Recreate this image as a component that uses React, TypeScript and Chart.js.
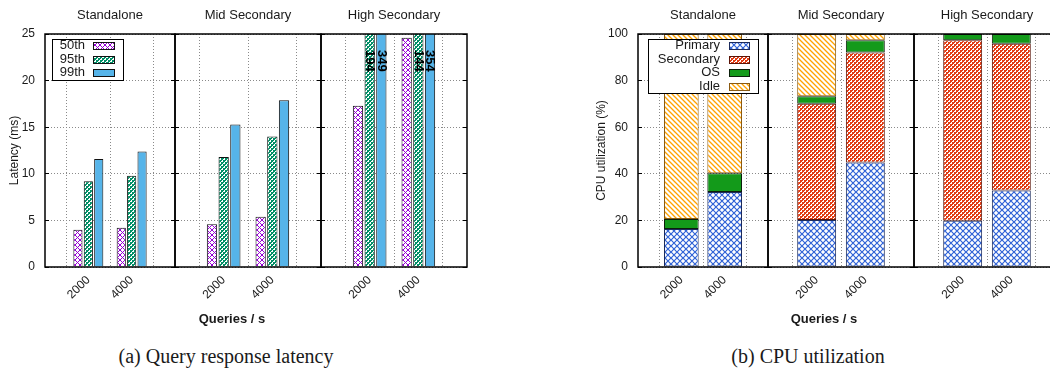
import React, { useEffect, useRef } from "react";
import { Chart, registerables } from "chart.js";

Chart.register(...registerables);

// ---------------- data ----------------
const panelTitles = ["Standalone", "Mid Secondary", "High Secondary"];
const loadLabels = ["2000", "4000"];
const latencyTicks = [0, 5, 10, 15, 20, 25];
const cpuTicks = [0, 20, 40, 60, 80, 100];
const latencySeries = ["50th", "95th", "99th"];
const cpuSeries = ["Primary", "Secondary", "OS", "Idle"];

// per panel: [2000, 4000]
const lat50 = [[4.0, 4.2], [4.6, 5.4], [17.3, 24.6]];
const lat95 = [[9.2, 9.8], [11.8, 14.0], [194, 144]];
const lat99 = [[11.6, 12.4], [15.3, 17.9], [349, 354]];

const cpuPrimary = [[16.3, 32.2], [20.2, 44.8], [19.9, 32.8]];
const cpuSecondary = [[0, 0], [49.9, 47.3], [77.4, 63.0]];
const cpuOS = [[4.3, 8.0], [3.2, 5.2], [2.7, 4.2]];
const cpuIdle = [[79.4, 59.8], [26.7, 2.7], [0, 0]];

const xLabel = "Queries / s";
const latencyYLabel = "Latency (ms)";
const cpuYLabel = "CPU utilization (%)";
const captionA = "(a) Query response latency";
const captionB = "(b) CPU utilization";

// ---------------- layout / style ----------------
const FONT = "'Liberation Sans', Arial, Helvetica, sans-serif";
const SERIF = "'Liberation Serif', 'Times New Roman', serif";
const TEXT = "#1a1a1a";
const CANVAS_H = 340;
const AREA_BOTTOM = 267;
const SIDE_PAD = 8;
const YAXIS_W = 45;

const layoutA = {
  areaLeft: [45, 175, 321],
  areaRight: [175, 321, 467],
  yTitleX: 15,
  legend: { x: 7, y: 5, w: 71, h: 41, row0: 11.5, rowStep: 13.6, textRight: 40, swatchX: 48, swatchW: 21, swatchH: 7 },
};
const layoutB = {
  areaLeft: [638, 768, 914],
  areaRight: [768, 914, 1060],
  yTitleX: 602,
  legend: { x: 10, y: 5, w: 110, h: 54, row0: 11.7, rowStep: 13.6, textRight: 82, swatchX: 91, swatchW: 20, swatchH: 7 },
};

const C = {
  p50: "#9400d3",
  p95: "#008f66",
  p99: "#56b4e9",
  primary: "#2f62d6",
  secondary: "#e23c14",
  os: "#139a1a",
  idle: "#ffa200",
};

// ---------------- patterns ----------------
function tile(size: number, draw: (g: CanvasRenderingContext2D, s: number) => void) {
  const c = document.createElement("canvas");
  c.width = size;
  c.height = size;
  const g = c.getContext("2d")!;
  g.fillStyle = "#fff";
  g.fillRect(0, 0, size, size);
  draw(g, size);
  return c;
}
function crosshatchTile(color: string, s: number, lw: number) {
  return tile(s, (g) => {
    g.strokeStyle = color;
    g.lineWidth = lw;
    g.beginPath();
    g.moveTo(-1, -1); g.lineTo(s + 1, s + 1);
    g.moveTo(s + 1, -1); g.lineTo(-1, s + 1);
    g.stroke();
  });
}
// fine checkerboard, 2px cells
function checkerTile(color: string) {
  return tile(4, (g) => {
    g.fillStyle = color;
    g.fillRect(0, 0, 2, 2);
    g.fillRect(2, 2, 2, 2);
    g.fillRect(0, 2, 1, 1);
    g.fillRect(2, 0, 1, 1);
  });
}
function hatchTile(color: string, s: number) {
  return tile(s, (g) => {
    g.strokeStyle = color;
    g.lineWidth = 1.3;
    g.beginPath();
    g.moveTo(-1, -1); g.lineTo(s + 1, s + 1);
    g.moveTo(s - 2, -2); g.lineTo(s + 2, 2);
    g.moveTo(-2, s - 2); g.lineTo(2, s + 2);
    g.stroke();
  });
}
function makePatterns(ctx: CanvasRenderingContext2D) {
  const p = (t: HTMLCanvasElement) => ctx.createPattern(t, "repeat") as CanvasPattern;
  return {
    p50: p(crosshatchTile(C.p50, 5, 1)),
    p95: p(checkerTile(C.p95)),
    p99: C.p99,
    primary: p(crosshatchTile(C.primary, 6, 1.2)),
    secondary: p(checkerTile(C.secondary)),
    os: C.os,
    idle: p(hatchTile(C.idle, 5)),
  };
}

// ---------------- plugins ----------------
const framePlugin = {
  id: "frame",
  afterDatasetsDraw(chart: any) {
    const { ctx, chartArea: a } = chart;
    ctx.save();
    ctx.strokeStyle = "#000";
    ctx.lineWidth = 1.5;
    ctx.strokeRect(a.left, a.top, a.right - a.left, a.bottom - a.top);
    ctx.restore();
  },
};

function legendPlugin(spec: any) {
  return {
    id: "boxLegend",
    afterDraw(chart: any) {
      const { ctx, chartArea: a } = chart;
      const x0 = a.left + spec.x;
      const y0 = a.top + spec.y;
      ctx.save();
      ctx.fillStyle = "#fff";
      ctx.fillRect(x0, y0, spec.w, spec.h);
      ctx.strokeStyle = "#000";
      ctx.lineWidth = 1;
      ctx.strokeRect(x0 + 0.5, y0 + 0.5, spec.w, spec.h);
      chart.data.datasets.forEach((ds: any, k: number) => {
        const cy = a.top + spec.row0 + k * spec.rowStep;
        ctx.fillStyle = TEXT;
        ctx.font = `13px ${FONT}`;
        ctx.textAlign = "right";
        ctx.textBaseline = "middle";
        ctx.fillText(ds.label, a.left + spec.textRight, cy);
        const sx = a.left + spec.swatchX;
        const sy = Math.round(cy - spec.swatchH / 2);
        ctx.fillStyle = ds.backgroundColor;
        ctx.fillRect(sx, sy, spec.swatchW, spec.swatchH);
        ctx.strokeStyle = ds.borderColor;
        ctx.lineWidth = 1;
        ctx.strokeRect(sx + 0.5, sy + 0.5, spec.swatchW, spec.swatchH);
      });
      ctx.restore();
    },
  };
}

function overflowLabelPlugin(yMax: number) {
  return {
    id: "overflowLabels",
    afterDatasetsDraw(chart: any) {
      const { ctx, chartArea: a } = chart;
      chart.data.datasets.forEach((ds: any, di: number) => {
        const meta = chart.getDatasetMeta(di);
        ds.data.forEach((v: any, j: number) => {
          if (v == null || v <= yMax) return;
          const el = meta.data[j];
          ctx.save();
          ctx.translate(el.x, a.top + 16);
          ctx.rotate(Math.PI / 2);
          ctx.textAlign = "left";
          ctx.textBaseline = "middle";
          ctx.font = `bold 13px ${FONT}`;
          ctx.fillStyle = "#000";
          ctx.fillText(String(v), 0, 0);
          ctx.restore();
        });
      });
    },
  };
}

// ---------------- chart builder ----------------
function geometry(fig: "a" | "b", i: number) {
  const L = fig === "a" ? layoutA : layoutB;
  const first = i === 0;
  const left = first ? L.areaLeft[i] - YAXIS_W : L.areaLeft[i] - SIDE_PAD;
  const width = L.areaRight[i] + SIDE_PAD - left;
  return { L, first, left, width };
}

function buildChart(canvas: HTMLCanvasElement, fig: "a" | "b", i: number) {
  const { L, first, left } = geometry(fig, i);
  const isA = fig === "a";
  const ctx = canvas.getContext("2d")!;
  const pats = makePatterns(ctx);
  const labels = ["", ...loadLabels, ""];
  const wrap = (arr: number[]) => [null, ...arr.map((v) => (v === 0 ? null : v)), null];
  const tickVals = isA ? latencyTicks : cpuTicks;
  const yMin = tickVals[0];
  const yMax = tickVals[tickVals.length - 1];
  const step = tickVals[1] - tickVals[0];

  const latBar = { borderColor: "#111", borderWidth: 1, categoryPercentage: 0.72, barPercentage: 0.88 };
  const cpuBar = { borderWidth: 1, categoryPercentage: 1, barPercentage: 0.8, borderSkipped: false };

  const datasets: any[] = isA
    ? [
        { label: latencySeries[0], data: wrap(lat50[i]), backgroundColor: pats.p50, ...latBar },
        { label: latencySeries[1], data: wrap(lat95[i]), backgroundColor: pats.p95, ...latBar },
        { label: latencySeries[2], data: wrap(lat99[i]), backgroundColor: pats.p99, ...latBar },
      ]
    : [
        { label: cpuSeries[0], data: wrap(cpuPrimary[i]), backgroundColor: pats.primary, borderColor: "#1c2b5c", ...cpuBar },
        { label: cpuSeries[1], data: wrap(cpuSecondary[i]), backgroundColor: pats.secondary, borderColor: "#5a1408", ...cpuBar },
        { label: cpuSeries[2], data: wrap(cpuOS[i]), backgroundColor: pats.os, borderColor: "#0b1f0b", ...cpuBar },
        { label: cpuSeries[3], data: wrap(cpuIdle[i]), backgroundColor: pats.idle, borderColor: "#8a5a12", ...cpuBar },
      ];

  const grid = {
    color: "#8a8a8a",
    lineWidth: 1,
    borderDash: [1, 2],
    tickColor: "#000",
    tickWidth: 1,
    tickBorderDash: [],
  };
  const tickFont = { family: FONT, size: 12 };

  const plugins: any[] = [framePlugin];
  if (isA) plugins.push(overflowLabelPlugin(yMax));
  if (first) plugins.push(legendPlugin(L.legend));

  return new Chart(canvas, {
    type: "bar",
    data: { labels, datasets },
    plugins,
    options: {
      animation: false,
      responsive: false,
      maintainAspectRatio: false,
      devicePixelRatio: 1,
      events: [],
      layout: { padding: { left: first ? 0 : SIDE_PAD, right: SIDE_PAD, top: 0, bottom: 0 } },
      plugins: {
        legend: { display: false },
        tooltip: { enabled: false },
        title: {
          display: true,
          text: panelTitles[i],
          fullSize: false,
          color: TEXT,
          font: { family: FONT, size: 13, lineHeight: 1, weight: "normal" },
          padding: { top: 8.5, bottom: 12.5 },
        },
      },
      scales: {
        x: {
          type: "category",
          offset: false,
          stacked: !isA,
          grid: { ...grid, drawTicks: false },
          border: { display: false, dash: [1, 2] },
          ticks: { autoSkip: false, minRotation: 45, maxRotation: 45, padding: 6, color: TEXT, font: tickFont },
          afterFit: (s: any) => {
            s.height = CANVAS_H - AREA_BOTTOM;
            s.paddingLeft = 0;
            s.paddingRight = 0;
          },
        },
        y: {
          type: "linear",
          position: "left",
          min: yMin,
          max: yMax,
          stacked: !isA,
          grid: { ...grid, drawTicks: true, tickLength: -4 },
          border: { display: false, dash: [1, 2] },
          ticks: { stepSize: step, display: first, padding: 14, color: TEXT, font: tickFont },
          title: {
            display: first,
            text: isA ? latencyYLabel : cpuYLabel,
            color: TEXT,
            font: { family: FONT, size: 12, lineHeight: 1 },
            padding: { top: L.yTitleX - left - 6, bottom: 0 },
          },
          afterFit: (s: any) => {
            s.width = first ? YAXIS_W : 0;
          },
        },
        y2: {
          type: "linear",
          position: "right",
          min: yMin,
          max: yMax,
          grid: { drawOnChartArea: false, drawTicks: true, tickLength: -4, tickColor: "#000", tickWidth: 1 },
          border: { display: false },
          ticks: { stepSize: step, display: false },
          afterFit: (s: any) => {
            s.width = 0;
            s.paddingTop = 0;
            s.paddingBottom = 0;
          },
        },
      },
    } as any,
  });
}

function Panel({ fig, i }: { fig: "a" | "b"; i: number }) {
  const ref = useRef<HTMLCanvasElement>(null);
  const { left, width } = geometry(fig, i);
  useEffect(() => {
    const chart = buildChart(ref.current!, fig, i);
    return () => chart.destroy();
  }, [fig, i]);
  return (
    <canvas
      ref={ref}
      width={width}
      height={CANVAS_H}
      style={{ position: "absolute", left, top: 0, width, height: CANVAS_H }}
    />
  );
}

function Label({ x, y, text, font }: { x: number; y: number; text: string; font: string }) {
  return (
    <div
      style={{
        position: "absolute",
        left: x,
        top: y,
        transform: "translate(-50%, -50%)",
        whiteSpace: "nowrap",
        font,
        color: TEXT,
        lineHeight: 1,
      }}
    >
      {text}
    </div>
  );
}

export default function App() {
  return (
    <div
      style={{
        position: "fixed",
        left: 0,
        top: 0,
        width: 1050,
        height: 373,
        overflow: "hidden",
        background: "#fff",
      }}
    >
      {[0, 1, 2].map((i) => (
        <Panel key={"a" + i} fig="a" i={i} />
      ))}
      {[0, 1, 2].map((i) => (
        <Panel key={"b" + i} fig="b" i={i} />
      ))}
      <Label x={232} y={318} text={xLabel} font={`bold 13px ${FONT}`} />
      <Label x={824} y={318} text={xLabel} font={`bold 13px ${FONT}`} />
      <Label x={226} y={356} text={captionA} font={`20px ${SERIF}`} />
      <Label x={808} y={356} text={captionB} font={`20px ${SERIF}`} />
    </div>
  );
}
